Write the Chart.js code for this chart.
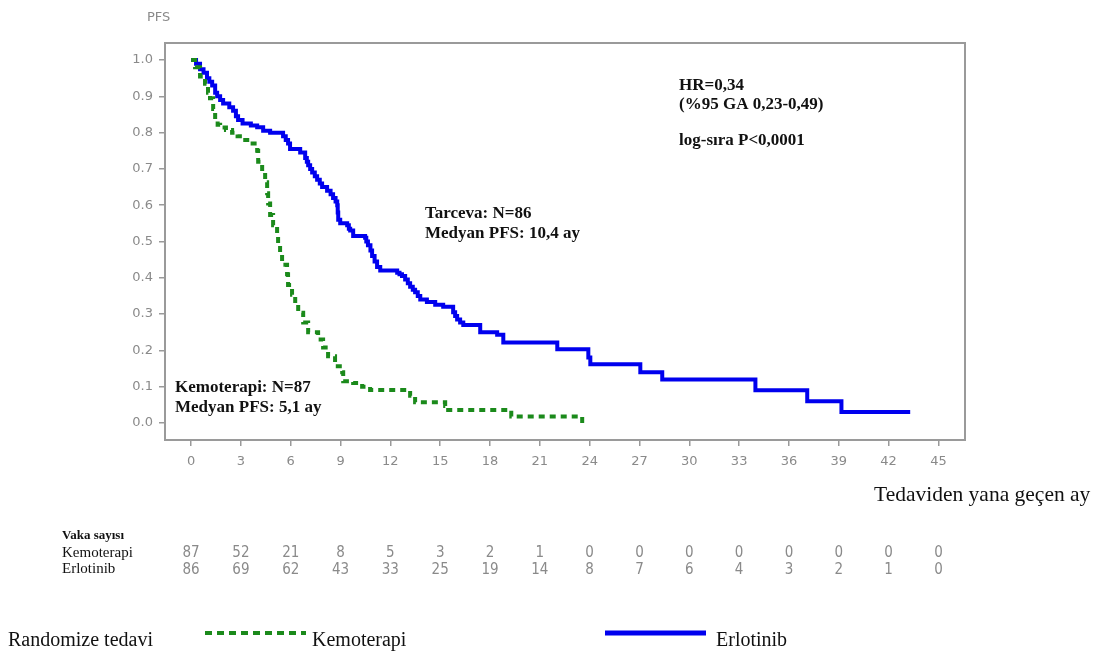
<!DOCTYPE html>
<html>
<head>
<meta charset="utf-8">
<script src="https://cdn.jsdelivr.net/npm/chart.js@4.4.1/dist/chart.umd.min.js"></script>
<style>
  html, body { margin: 0; padding: 0; background: #ffffff; }
  #wrap { position: relative; width: 1100px; height: 655px; }
  canvas { display: block; }
</style>
</head>
<body>
<div id="wrap"><canvas id="c" width="1100" height="655"></canvas></div>
<script>
// ---- Data ----
const kemoMonths = [0, 0.24, 0.54, 0.84, 1.02, 1.14, 1.33, 1.45, 1.6, 1.75, 2.1, 2.47, 2.8, 3.07, 3.55, 3.98, 4.04, 4.28, 4.46, 4.58, 4.64, 4.76, 4.94, 5.18, 5.24, 5.36, 5.48, 5.78, 5.84, 6.08, 6.27, 6.45, 6.75, 7.05, 7.65, 7.95, 8.25, 8.67, 9.10, 9.16, 9.76, 10.30, 10.78, 13.19, 13.49, 15.30, 15.48, 19.28, 23.43, 23.55];
const kemoSurv   = [1.0, 0.98, 0.955, 0.935, 0.91, 0.895, 0.865, 0.833, 0.822, 0.814, 0.807, 0.80, 0.79, 0.78, 0.77, 0.75, 0.72, 0.69, 0.663, 0.633, 0.605, 0.573, 0.545, 0.518, 0.49, 0.463, 0.436, 0.41, 0.38, 0.353, 0.326, 0.304, 0.277, 0.25, 0.23, 0.208, 0.184, 0.156, 0.14, 0.115, 0.11, 0.10, 0.091, 0.075, 0.057, 0.047, 0.036, 0.018, 0.018, 0.0];

const erloMonths = [0, 0.3, 0.54, 0.75, 0.96, 1.1, 1.27, 1.45, 1.57, 1.75, 1.93, 2.3, 2.53, 2.7, 2.83, 3.1, 3.6, 3.98, 4.34, 4.76, 5.54, 5.7, 5.84, 5.96, 6.57, 6.87, 6.97, 7.05, 7.17, 7.29, 7.45, 7.59, 7.75, 7.89, 8.19, 8.4, 8.55, 8.7, 8.80, 8.83, 8.86, 8.98, 9.40, 9.5, 9.58, 9.76, 10.48, 10.55, 10.65, 10.8, 10.9, 11.05, 11.2, 11.39, 12.41, 12.55, 12.7, 12.89, 13.05, 13.19, 13.35, 13.49, 13.65, 13.80, 14.20, 14.70, 15.18, 15.78, 15.9, 16.02, 16.2, 16.39, 17.41, 18.43, 18.8, 22.05, 23.92, 24.04, 27.05, 28.37, 33.98, 37.10, 39.16, 43.30];
const erloSurv   = [1.0, 0.99, 0.975, 0.965, 0.95, 0.94, 0.93, 0.91, 0.90, 0.89, 0.88, 0.87, 0.86, 0.845, 0.835, 0.825, 0.82, 0.815, 0.805, 0.80, 0.79, 0.78, 0.77, 0.755, 0.745, 0.73, 0.72, 0.71, 0.70, 0.69, 0.68, 0.67, 0.66, 0.65, 0.64, 0.63, 0.62, 0.61, 0.60, 0.58, 0.56, 0.55, 0.545, 0.535, 0.53, 0.515, 0.51, 0.50, 0.49, 0.475, 0.46, 0.445, 0.43, 0.42, 0.414, 0.41, 0.405, 0.395, 0.385, 0.375, 0.367, 0.36, 0.35, 0.34, 0.333, 0.326, 0.32, 0.305, 0.295, 0.285, 0.277, 0.27, 0.25, 0.243, 0.222, 0.203, 0.18, 0.162, 0.14, 0.12, 0.09, 0.06, 0.03, 0.03];

const xTicks = [0, 3, 6, 9, 12, 15, 18, 21, 24, 27, 30, 33, 36, 39, 42, 45];
const yTicks = [0.0, 0.1, 0.2, 0.3, 0.4, 0.5, 0.6, 0.7, 0.8, 0.9, 1.0];

const riskKemo = [87, 52, 21, 8, 5, 3, 2, 1, 0, 0, 0, 0, 0, 0, 0, 0];
const riskErlo = [86, 69, 62, 43, 33, 25, 19, 14, 8, 7, 6, 4, 3, 2, 1, 0];

const seriesNames = ['Kemoterapi', 'Erlotinib'];
// ---------------------------------------------

const GREEN = '#1b8a1b';
const BLUE = '#0000ee';
const GRAY = '#8a8a8a';
const SERIF = '"Liberation Serif", "Times New Roman", serif';
const SANS = '"DejaVu Sans", Verdana, sans-serif';
const NARROW = '"Liberation Sans Narrow", "DejaVu Sans Condensed", "Arial Narrow", sans-serif';

const toPts = (xs, ys) => xs.map((x, i) => ({ x: x, y: ys[i] }));

const decorPlugin = {
  id: 'decor',
  beforeDatasetsDraw(chart) {
    const { ctx, chartArea: a } = chart;
    ctx.save();
    ctx.strokeStyle = '#9a9a9a';
    ctx.lineWidth = 2;
    ctx.strokeRect(a.left, a.top, a.right - a.left, a.bottom - a.top);
    ctx.restore();
  },
  afterDraw(chart) {
    const { ctx } = chart;
    const xs = chart.scales.x;
    ctx.save();
    ctx.fillStyle = GRAY;
    ctx.font = '13px ' + SANS;
    ctx.textAlign = 'left';
    ctx.textBaseline = 'alphabetic';
    ctx.fillText('PFS', 147, 21);

    ctx.fillStyle = '#111';
    ctx.font = 'bold 17px ' + SERIF;
    ctx.fillText('HR=0,34', 679, 90);
    ctx.fillText('(%95 GA 0,23-0,49)', 679, 109);
    ctx.fillText('log-sıra P<0,0001', 679, 145);
    ctx.fillText('Tarceva: N=86', 425, 218);
    ctx.fillText('Medyan PFS: 10,4 ay', 425, 238);
    ctx.fillText('Kemoterapi: N=87', 175, 392);
    ctx.fillText('Medyan PFS: 5,1 ay', 175, 412);

    ctx.font = '21.5px ' + SERIF;
    ctx.fillText('Tedaviden yana geçen ay', 874, 501);

    ctx.font = 'bold 13px ' + SERIF;
    ctx.fillText('Vaka sayısı', 62, 539);
    ctx.font = '15px ' + SERIF;
    ctx.fillText(seriesNames[0], 62, 557);
    ctx.fillText(seriesNames[1], 62, 573);
    ctx.fillStyle = GRAY;
    ctx.font = '15px ' + NARROW;
    ctx.textAlign = 'center';
    xTicks.forEach((t, i) => {
      const px = xs.getPixelForValue(t);
      ctx.fillText(String(riskKemo[i]), px, 557);
      ctx.fillText(String(riskErlo[i]), px, 574);
    });

    ctx.textAlign = 'left';
    ctx.fillStyle = '#111';
    ctx.font = '20px ' + SERIF;
    ctx.fillText('Randomize tedavi', 8, 646);
    ctx.fillText(seriesNames[0], 312, 646);
    ctx.fillText(seriesNames[1], 716, 646);
    ctx.lineWidth = 4;
    ctx.strokeStyle = GREEN;
    ctx.setLineDash([7, 5]);
    ctx.beginPath(); ctx.moveTo(205, 633); ctx.lineTo(306, 633); ctx.stroke();
    ctx.setLineDash([]);
    ctx.lineWidth = 5;
    ctx.strokeStyle = BLUE;
    ctx.beginPath(); ctx.moveTo(605, 633); ctx.lineTo(706, 633); ctx.stroke();
    ctx.restore();
  }
};

new Chart(document.getElementById('c'), {
  type: 'scatter',
  data: {
    datasets: [
      {
        label: seriesNames[0],
        data: toPts(kemoMonths, kemoSurv),
        showLine: true,
        stepped: true,
        borderColor: GREEN,
        borderWidth: 4,
        borderDash: [6, 5],
        pointRadius: 0,
        fill: false
      },
      {
        label: seriesNames[1],
        data: toPts(erloMonths, erloSurv),
        showLine: true,
        stepped: true,
        borderColor: BLUE,
        borderWidth: 4,
        pointRadius: 0,
        fill: false
      }
    ]
  },
  options: {
    responsive: false,
    animation: false,
    devicePixelRatio: 1,
    layout: { padding: { left: 115, top: 43, right: 135, bottom: 175 } },
    plugins: { legend: { display: false }, tooltip: { enabled: false } },
    scales: {
      x: {
        type: 'linear',
        min: -1.57,
        max: 46.6,
        afterBuildTicks: (s) => { s.ticks = xTicks.map(v => ({ value: v })); },
        afterFit: (s) => { s.height = 40; },
        grid: { drawOnChartArea: false, drawTicks: true, tickLength: 6, color: '#9a9a9a', lineWidth: 1.5 },
        border: { display: false },
        ticks: { color: GRAY, font: { family: SANS, size: 13 }, padding: 8, maxRotation: 0, autoSkip: false,
                 callback: (v) => String(v) }
      },
      y: {
        type: 'linear',
        min: -0.047,
        max: 1.047,
        afterBuildTicks: (s) => { s.ticks = yTicks.map(v => ({ value: v })); },
        afterFit: (s) => { s.width = 50; },
        grid: { drawOnChartArea: false, drawTicks: true, tickLength: 6, color: '#9a9a9a', lineWidth: 1.5 },
        border: { display: false },
        ticks: { color: GRAY, font: { family: SANS, size: 13 }, padding: 6, autoSkip: false,
                 callback: (v) => Number(v).toFixed(1) }
      }
    }
  },
  plugins: [decorPlugin]
});
</script>
</body>
</html>
